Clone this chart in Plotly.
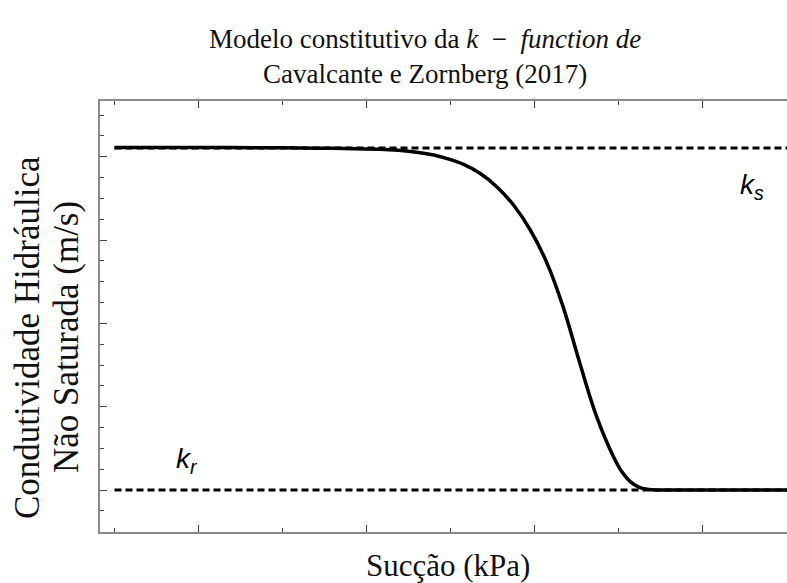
import plotly.graph_objects as go

# Data (arbitrary units; axes carry no numeric labels)
suction = [0.0, 1.0, 2.0, 2.6, 3.16, 3.55, 3.80, 3.95, 4.15, 4.35, 4.55, 4.75, 4.95,
           5.15, 5.34, 5.54, 5.74, 5.94, 6.04, 6.14, 6.24, 6.34, 6.50, 6.73, 8.1]
conductivity = [4.11, 4.11, 4.106, 4.10, 4.088, 4.06, 4.02, 3.98, 3.91, 3.80, 3.64, 3.42, 3.12,
                2.72, 2.20, 1.52, 0.88, 0.40, 0.22, 0.10, 0.035, 0.008, 0.0, 0.0, 0.0]
ks_value = 4.104
kr_value = 0.0
ref_x = [0.0, 8.1]

title_text = ("Modelo constitutivo da <i>k</i>\u2002−\u2002<i>function de</i><br>"
              "Cavalcante e Zornberg (2017)")
x_title = "Sucção (kPa)"
y_title_1 = "Condutividade Hidráulica"
y_title_2 = "Não Saturada (m/s)"

fig = go.Figure()
fig.add_trace(go.Scatter(x=ref_x, y=[ks_value, ks_value], mode="lines",
                         line=dict(color="black", width=3, dash="7px,4px"),
                         hoverinfo="skip", showlegend=False))
fig.add_trace(go.Scatter(x=ref_x, y=[kr_value, kr_value], mode="lines",
                         line=dict(color="black", width=3, dash="7px,4px"),
                         hoverinfo="skip", showlegend=False))
fig.add_trace(go.Scatter(x=suction, y=conductivity, mode="lines",
                         line=dict(color="black", width=3.5, shape="spline", smoothing=1.0),
                         showlegend=False))

serif = "Liberation Serif, Times New Roman, serif"
sans = "Liberation Sans, Arial, sans-serif"

fig.update_layout(
    width=787, height=583,
    margin=dict(l=100, r=0, t=101, b=51),
    paper_bgcolor="white", plot_bgcolor="white",
    showlegend=False,
    xaxis=dict(range=[-0.1726, 8.006], showgrid=False, zeroline=False,
               showline=True, linecolor="#8a8a8a", linewidth=1.5, mirror="ticks",
               ticks="inside", ticklen=7, tickcolor="#444", tickwidth=1,
               tickmode="array", tickvals=[1, 3, 5, 7], showticklabels=False,
               minor=dict(tickmode="array", tickvals=[0, 2, 4, 6, 8], ticks="inside",
                          ticklen=4, tickcolor="#444", tickwidth=1, showgrid=False)),
    yaxis=dict(range=[-0.504, 4.668], showgrid=False, zeroline=False,
               showline=True, linecolor="#8a8a8a", linewidth=1.5, mirror=False,
               ticks="inside", ticklen=7, tickcolor="#444", tickwidth=1,
               tickmode="array", tickvals=[0, 1, 2, 3, 4], showticklabels=False,
               minor=dict(tickmode="array",
                          tickvals=[-0.25, 0.25, 0.5, 0.75, 1.25, 1.5, 1.75, 2.25, 2.5, 2.75,
                                    3.25, 3.5, 3.75, 4.25, 4.5],
                          ticks="inside", ticklen=4, tickcolor="#444", tickwidth=1,
                          showgrid=False)),
    annotations=[
        dict(text=title_text, xref="paper", yref="paper", x=0.473, y=1.1044,
             xanchor="center", yanchor="middle", showarrow=False,
             font=dict(family=serif, size=27, color="#111")),
        dict(text=x_title, xref="paper", yref="paper", x=0.5066, y=-0.0766,
             xanchor="center", yanchor="middle", showarrow=False,
             font=dict(family=serif, size=31, color="#111")),
        dict(text=y_title_1, xref="paper", yref="paper", x=-0.1063, y=0.4524,
             xanchor="center", yanchor="middle", showarrow=False, textangle=-90,
             font=dict(family=serif, size=35, color="#111")),
        dict(text=y_title_2, xref="paper", yref="paper", x=-0.0495, y=0.4524,
             xanchor="center", yanchor="middle", showarrow=False, textangle=-90,
             font=dict(family=serif, size=35, color="#111")),
        dict(text="<i>k</i><sub><i>s</i></sub>", x=7.59, y=3.64, xref="x", yref="y",
             xanchor="center", yanchor="middle", showarrow=False,
             font=dict(family=sans, size=28, color="black")),
        dict(text="<i>k</i><sub><i>r</i></sub>", x=0.86, y=0.35, xref="x", yref="y",
             xanchor="center", yanchor="middle", showarrow=False,
             font=dict(family=sans, size=28, color="black")),
    ],
)

fig.write_html("out.html", config={"displayModeBar": False},
               post_script="document.body.style.margin='0px';document.body.style.overflow='hidden';")
